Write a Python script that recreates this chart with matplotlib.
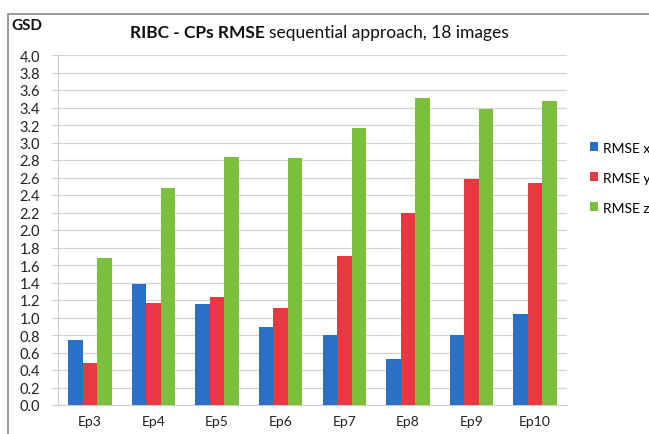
import matplotlib
matplotlib.use("Agg")
import matplotlib.pyplot as plt
import numpy as np
from matplotlib.patches import Rectangle

# values (GSD units)
epochs = ["Ep3", "Ep4", "Ep5", "Ep6", "Ep7", "Ep8", "Ep9", "Ep10"]
rmse_x = [0.74, 1.38, 1.15, 0.89, 0.80, 0.53, 0.80, 1.04]
rmse_y = [0.48, 1.17, 1.24, 1.11, 1.70, 2.20, 2.58, 2.54]
rmse_z = [1.68, 2.48, 2.84, 2.82, 3.17, 3.51, 3.38, 3.48]
series = ["RMSE x", "RMSE y", "RMSE z"]
colors = ["#2b70c8", "#e63a40", "#7cbf3c"]
yticks = np.arange(0, 4.01, 0.2)

plt.rcParams["font.family"] = ["Lato", "DejaVu Sans"]

W, H = 649, 435
fig = plt.figure(figsize=(W / 100, H / 100), dpi=100)
ax = fig.add_axes([58 / W, 1 - 406 / H, (567 - 58) / W, (406 - 56) / H])

x = np.arange(len(epochs))
bw = 0.228
for i, (vals, name, c) in enumerate(zip([rmse_x, rmse_y, rmse_z], series, colors)):
    ax.bar(x + (i - 1) * bw, vals, width=bw, color=c, label=name, zorder=3)

ax.set_xlim(-0.5, len(epochs) - 0.5)
ax.set_ylim(0, 4.0)
ax.set_yticks(yticks)
ax.set_yticklabels([f"{v:.1f}" for v in yticks], fontsize=10.5, color="#222222")
ax.set_xticks(x)
ax.set_xticklabels(epochs, fontsize=10, color="#222222")
ax.tick_params(axis="x", length=0, pad=7)
ax.tick_params(axis="y", length=4, color="#cccccc", pad=9)
ax.grid(axis="y", color="#d4d4d4", lw=0.9, zorder=0)
for s in ["top", "right"]:
    ax.spines[s].set_visible(False)
ax.spines["left"].set_color("#cccccc")
ax.spines["bottom"].set_color("#cccccc")

# title: bold part followed by regular part
t1 = fig.text(130 / W, 1 - 33 / H, "RIBC - CPs RMSE", ha="left", va="center",
              fontsize=12.5, fontweight="bold", color="#111111")
fig.canvas.draw()
bb = t1.get_window_extent()
fig.text((bb.x1 + 4) / W, 1 - 33 / H, "sequential approach, 18 images", ha="left",
         va="center", fontsize=12.5, color="#111111")
fig.text(11 / W, 1 - 26 / H, "GSD", ha="left", va="center", fontsize=11,
         fontweight="bold", color="#111111")

handles, labels = ax.get_legend_handles_labels()
fig.legend(handles, labels, loc="upper left", bbox_to_anchor=(577 / W, 1 - 130 / H),
           frameon=False, fontsize=10, handlelength=0.6, handleheight=0.6,
           handletextpad=0.35, labelspacing=1.3)

fig.patches.append(Rectangle((8 / W, -0.1), 1.2, 1 - 15 / H + 0.1, transform=fig.transFigure,
                             fill=False, edgecolor="#8a8a8a", lw=1.2))
fig.savefig("out.png", dpi=100)
